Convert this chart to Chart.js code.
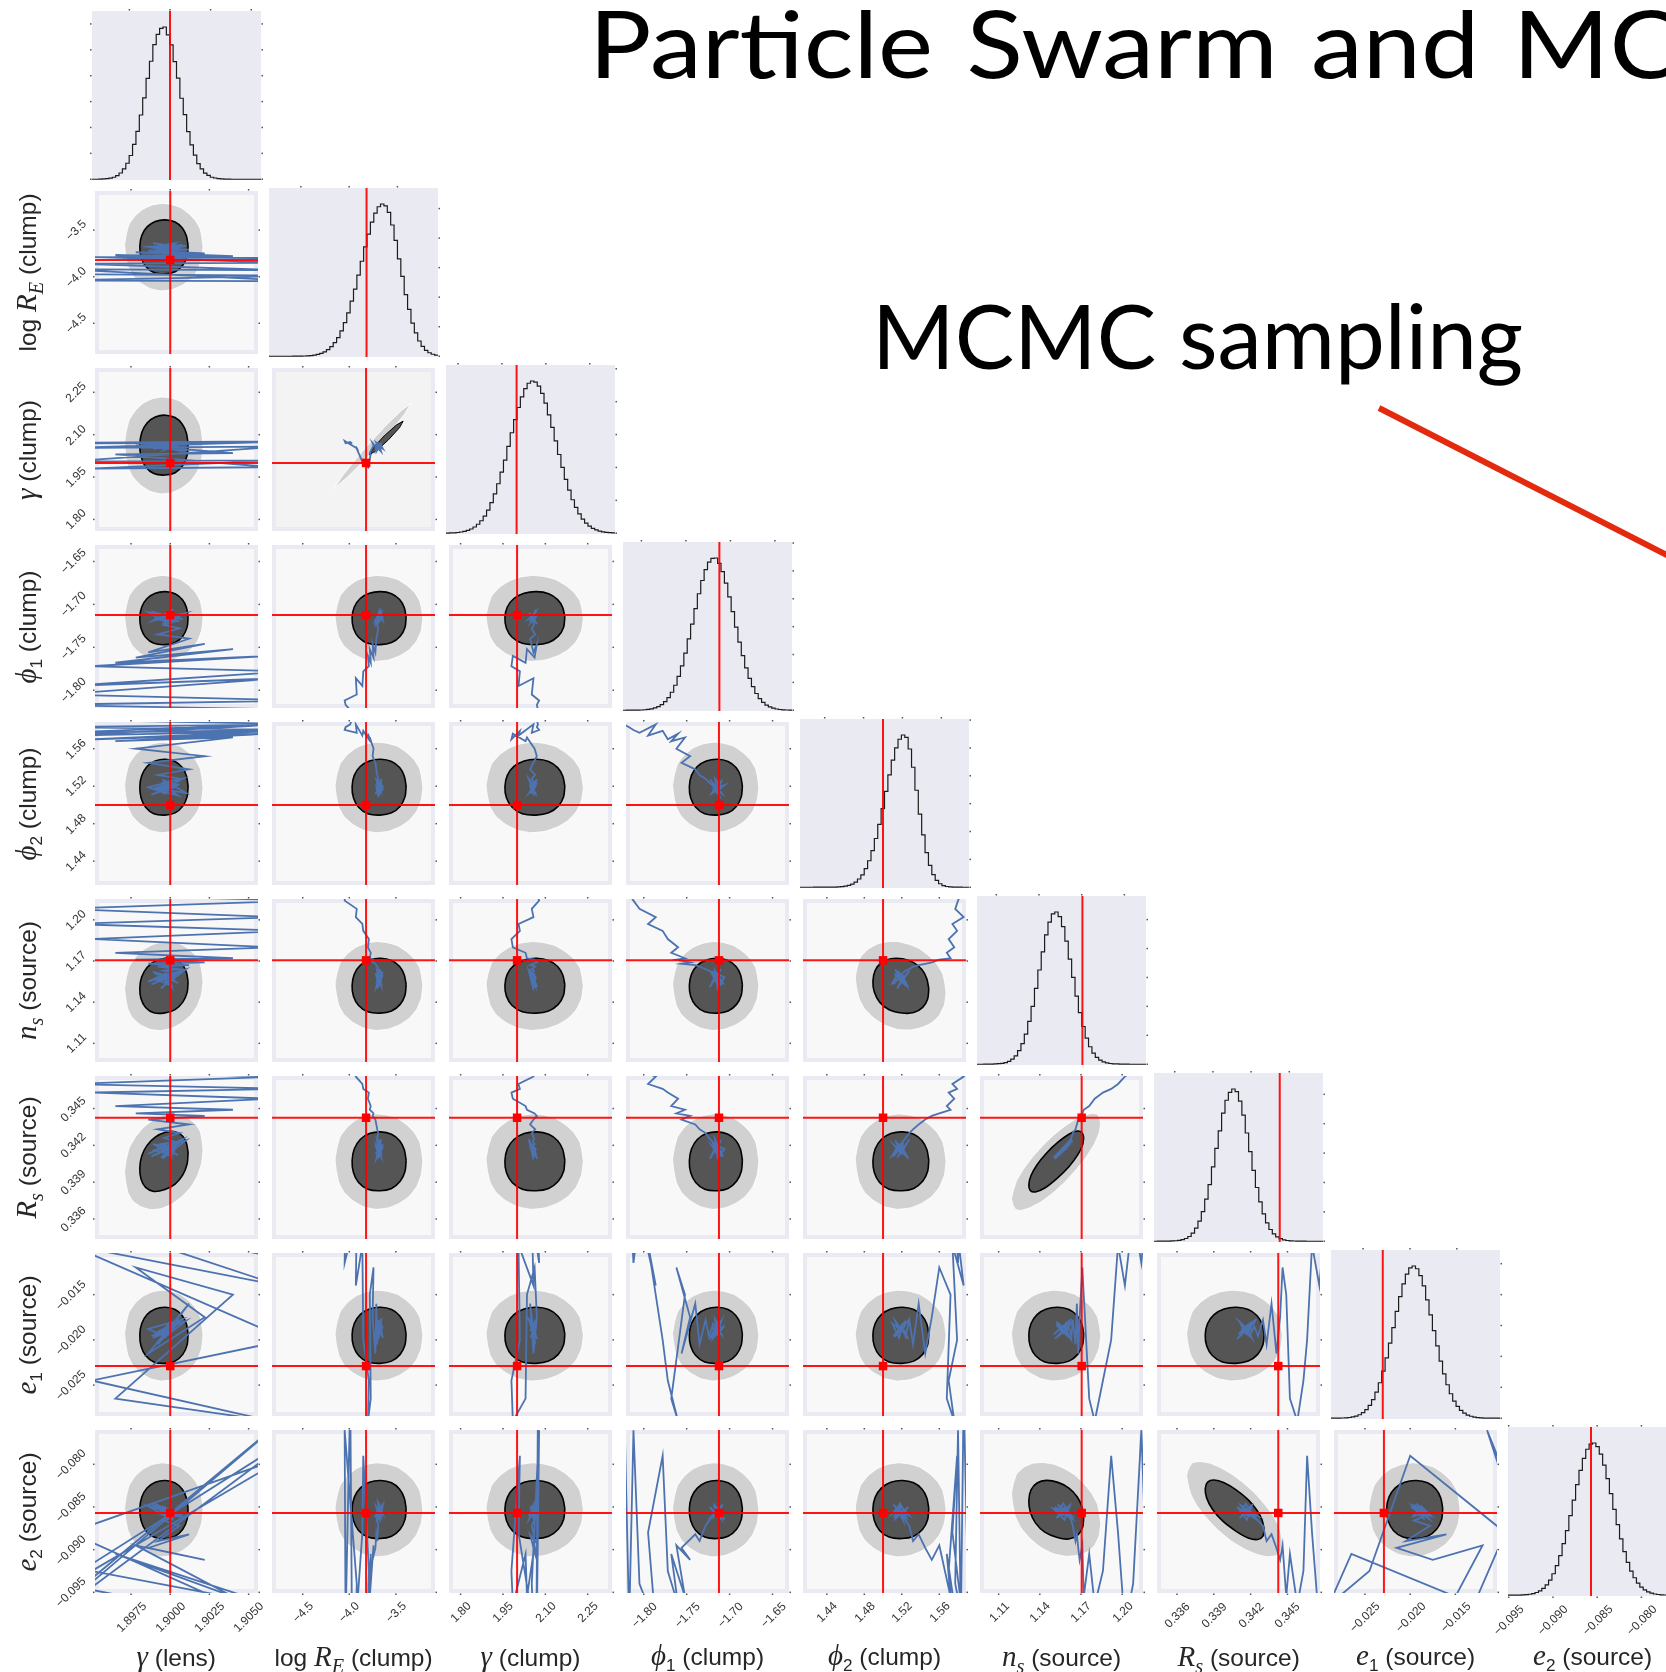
<!DOCTYPE html>
<html>
<head>
<meta charset="utf-8">
<title>Particle Swarm and MCMC</title>
<script src="https://cdn.jsdelivr.net/npm/chart.js@4.4.1/dist/chart.umd.min.js"></script>
<style>
  html, body { margin: 0; padding: 0; background: #ffffff; }
  body { position: relative; width: 1666px; height: 1672px; overflow: hidden;
         font-family: 'Liberation Sans', Arial, sans-serif; color: #262626; }
  canvas.panel { position: absolute; }
  .tick { position: absolute; font-size: 12px; line-height: 14px; color: #333333; white-space: nowrap; }
  .axtitle { position: absolute; font-size: 24.5px; line-height: 30px; white-space: nowrap; color: #262626; }
  .m { font-family: 'Liberation Serif', 'DejaVu Serif', serif; font-style: italic; font-size: 29px; }
  .axtitle sub { font-size: 70%; vertical-align: baseline; position: relative; top: 0.35em; }
  .big { position: absolute; font-family: Lato, 'Open Sans', sans-serif; color: #000; white-space: nowrap; line-height: 1;
         transform-origin: left top; }
</style>
</head>
<body>
<div class="big" id="title1" style="left:589px; top:-4px; font-size:93px; word-spacing:6px; transform: scaleX(1.12);">Particle Swarm and MCMC</div>
<div class="big" id="title2" style="left:872px; top:290px; font-size:89px;">MCMC sampling</div>
<svg style="position:absolute; left:0; top:0" width="1666" height="1672">
  <line x1="1379" y1="408" x2="1700" y2="572" stroke="#e32a0e" stroke-width="6"/>
</svg>
<script>
// parametres du corner plot (ordre des lignes / colonnes)
const axisTitles = [
  '<span class="m">γ</span> (lens)',
  'log <span class="m">R<sub>E</sub></span> (clump)',
  '<span class="m">γ</span> (clump)',
  '<span class="m">ϕ</span><sub>1</sub> (clump)',
  '<span class="m">ϕ</span><sub>2</sub> (clump)',
  '<span class="m">n<sub>s</sub></span> (source)',
  '<span class="m">R<sub>s</sub></span> (source)',
  '<span class="m">e</span><sub>1</sub> (source)',
  '<span class="m">e</span><sub>2</sub> (source)'
];
const axisMin = [1.8952, -4.83, 1.759, -1.8207, 1.4146, 1.0964, 0.33437, -0.02842, -0.09508];
const axisMax = [1.9056, -3.08, 2.336, -1.6308, 1.5885, 1.2152, 0.34765, -0.0104, -0.07598];
const tickValues = [
  [1.8975, 1.9, 1.9025, 1.905],
  [-4.5, -4.0, -3.5],
  [1.80, 1.95, 2.10, 2.25],
  [-1.80, -1.75, -1.70, -1.65],
  [1.44, 1.48, 1.52, 1.56],
  [1.11, 1.14, 1.17, 1.20],
  [0.336, 0.339, 0.342, 0.345],
  [-0.025, -0.020, -0.015],
  [-0.095, -0.090, -0.085, -0.080]
];
const tickLabels = [
  ['1.8975', '1.9000', '1.9025', '1.9050'],
  ['\u22124.5', '\u22124.0', '\u22123.5'],
  ['1.80', '1.95', '2.10', '2.25'],
  ['\u22121.80', '\u22121.75', '\u22121.70', '\u22121.65'],
  ['1.44', '1.48', '1.52', '1.56'],
  ['1.11', '1.14', '1.17', '1.20'],
  ['0.336', '0.339', '0.342', '0.345'],
  ['\u22120.025', '\u22120.020', '\u22120.015'],
  ['\u22120.095', '\u22120.090', '\u22120.085', '\u22120.080']
];
// valeurs vraies (lignes rouges)
const truthValues = [1.9000, -3.82, 2.00, -1.7124, 1.50, 1.1705, 0.34425, -0.0229, -0.0857];

// histogrammes marginaux, 50 classes sur l'etendue de chaque axe
const histCounts = [
  [0, 0, 0.1, 0.2, 0.4, 0.7, 1.3, 2.4, 4.1, 6.8, 10.5, 15.6, 22.9, 31.4, 42.2, 53.5, 66.3, 77.5, 88.4, 95.2, 99.1, 100, 94.8, 88.3, 77.2, 66.4, 53.2, 42.4, 31.3, 22.6, 15.9, 10.2, 6.8, 4.0, 2.5, 1.3, 0.8, 0.4, 0.2, 0.1, 0.05, 0, 0, 0, 0, 0, 0, 0, 0, 0],
  [0, 0, 0, 0, 0, 0, 0, 0.01, 0.03, 0.07, 0.15, 0.3, 0.46, 0.77, 1.2, 1.9, 2.9, 4.3, 6.3, 8.9, 12.2, 16.7, 22.1, 28.5, 36.2, 44.1, 53.3, 62.4, 71.8, 80.2, 88.1, 94.0, 98.2, 100, 98.8, 94.5, 86.2, 76.1, 64.0, 52.4, 40.5, 30.8, 21.8, 15.3, 10.0, 6.5, 3.9, 2.3, 1.3, 0.7],
  [0.1, 0.2, 0.3, 0.5, 0.8, 1.2, 1.9, 2.8, 4.1, 5.9, 8.2, 11.3, 15.2, 20.1, 25.8, 32.5, 40.1, 48.0, 57.1, 66.0, 74.6, 82.6, 89.5, 95.0, 98.5, 100, 99.3, 96.6, 91.9, 85.5, 77.8, 69.5, 60.7, 51.7, 43.3, 35.4, 28.3, 22.0, 17.0, 12.7, 9.3, 6.7, 4.7, 3.2, 2.2, 1.4, 0.9, 0.6, 0.4, 0.2],
  [0, 0.01, 0.03, 0.05, 0.1, 0.17, 0.31, 0.54, 0.9, 1.5, 2.4, 3.7, 5.6, 8.3, 11.8, 16.4, 22.3, 29.2, 37.5, 46.9, 56.6, 66.7, 76.5, 85.2, 92.3, 97.3, 99.8, 100, 96.5, 91.0, 83.5, 74.4, 64.8, 54.6, 44.8, 35.9, 27.8, 20.9, 15.5, 11.0, 7.6, 5.2, 3.4, 2.2, 1.4, 0.8, 0.5, 0.3, 0.15, 0.08],
  [0, 0, 0, 0, 0.01, 0.01, 0.02, 0.03, 0.04, 0.06, 0.11, 0.21, 0.39, 0.7, 1.25, 2.1, 3.4, 5.4, 8.1, 12.2, 17.4, 24.0, 32.0, 41.3, 51.6, 63.0, 73.8, 83.5, 91.5, 97.2, 100, 98.4, 90.8, 78.8, 63.7, 48.0, 34.4, 22.8, 14.3, 8.3, 4.5, 2.3, 1.1, 0.5, 0.2, 0.1, 0.05, 0.02, 0, 0],
  [0, 0, 0.02, 0.05, 0.1, 0.2, 0.35, 0.6, 1.0, 1.9, 3.3, 5.5, 8.9, 13.5, 19.8, 28.2, 38.0, 49.8, 61.9, 73.8, 85.0, 93.4, 98.7, 100, 97.0, 90.4, 80.9, 69.1, 57.0, 44.7, 33.9, 24.8, 17.1, 11.5, 7.3, 4.5, 2.7, 1.5, 0.9, 0.5, 0.3, 0.2, 0.1, 0.05, 0.02, 0, 0, 0, 0, 0],
  [0, 0.01, 0.02, 0.05, 0.1, 0.18, 0.32, 0.58, 1.0, 1.8, 3.1, 5.3, 8.6, 13.2, 19.4, 27.6, 37.2, 48.9, 61.0, 72.5, 84.1, 92.6, 97.8, 100, 98.3, 92.0, 82.8, 71.1, 58.9, 46.5, 35.3, 25.9, 18.0, 12.1, 7.7, 4.8, 2.9, 1.7, 0.95, 0.5, 0.28, 0.15, 0.08, 0.04, 0.02, 0, 0, 0, 0, 0],
  [0.01, 0.03, 0.07, 0.15, 0.28, 0.5, 0.85, 1.45, 2.3, 3.7, 5.6, 8.5, 12.2, 17.1, 23.3, 31.0, 39.6, 49.3, 59.5, 70.2, 79.9, 88.2, 94.7, 98.8, 100, 98.2, 93.7, 86.9, 77.7, 67.9, 57.6, 47.5, 37.5, 29.1, 22.0, 16.1, 11.3, 7.8, 5.2, 3.4, 2.1, 1.3, 0.77, 0.45, 0.24, 0.13, 0.07, 0.04, 0.02, 0.01],
  [0.02, 0.04, 0.08, 0.13, 0.22, 0.38, 0.66, 1.1, 1.8, 2.9, 4.5, 6.8, 9.9, 14.1, 19.4, 26.0, 33.9, 42.4, 52.3, 62.5, 72.6, 82.0, 89.9, 95.9, 99.3, 100, 97.6, 92.7, 85.5, 76.6, 66.7, 56.4, 46.4, 37.0, 28.7, 21.6, 15.8, 11.5, 7.9, 5.3, 3.5, 2.2, 1.4, 0.8, 0.5, 0.27, 0.15, 0.08, 0.04, 0.02]
];
const histMax = 110.5;
const histTickStep = [17, 19.4, 21.6, 18.3, 18.3, 19, 19.3, 20.3, 19.6];

// contours 2D : centre et demi-largeur du contour 68 % pour chaque parametre
const contourCenter = [1.8996, -3.68, 2.063, -1.716, 1.519, 1.152, 0.3407, -0.0195, -0.0853];
const contourRadius = [0.00154, 0.29, 0.106, 0.0309, 0.0298, 0.020, 0.0024, 0.0031, 0.0034];
// correlations visibles [colonne, ligne, rho]
const pairCorrelation = [[5, 6, 0.8], [6, 8, -0.7], [5, 8, -0.3], [0, 6, 0.25], [4, 5, -0.15], [0, 5, 0.1]];
// forme des contours en unites du rayon 68 %
const innerBlob = [[1.00, 0.04], [0.93, 0.40], [0.76, 0.70], [0.46, 0.92], [0.06, 1.00], [-0.36, 0.94], [-0.70, 0.74], [-0.92, 0.42],
  [-1.00, 0.02], [-0.95, -0.38], [-0.76, -0.72], [-0.42, -0.95], [0.04, -1.00], [0.46, -0.92], [0.78, -0.68], [0.96, -0.34]];
const outerBlob = [[1.62, 0.00], [1.57, 0.36], [1.50, 0.66], [1.30, 0.98], [1.02, 1.24], [0.68, 1.46], [0.30, 1.57], [-0.08, 1.61],
  [-0.48, 1.55], [-0.86, 1.40], [-1.18, 1.16], [-1.44, 0.84], [-1.56, 0.46], [-1.63, 0.06], [-1.58, -0.34], [-1.49, -0.72],
  [-1.30, -1.05], [-0.98, -1.33], [-0.58, -1.54], [-0.12, -1.63], [0.34, -1.58], [0.76, -1.42], [1.10, -1.20], [1.38, -0.88], [1.56, -0.46]];
// panneau log R_E / gamma clump : bande tres etroite
const streakOuter = [[-4.167, 1.909], [-4.024, 1.9485], [-3.805, 2.0198], [-3.556, 2.111], [-3.403, 2.1745], [-3.339, 2.210],
  [-3.441, 2.1855], [-3.618, 2.129], [-3.867, 2.038], [-4.062, 1.9595]];
const streakInner = [[-3.784, 2.029], [-3.694, 2.0475], [-3.580, 2.0816], [-3.460, 2.1252], [-3.422, 2.148],
  [-3.492, 2.1348], [-3.626, 2.0954], [-3.730, 2.0585]];

// trajectoire PSO (meme chemin projete dans chaque panneau)
const traceSteps = [
  [1.8900, 1.9090, 1.8920, 1.9085, 1.8930, 1.9070, 1.8936, 1.9075, 1.8950, 1.9065, 1.8965, 1.9040, 1.8978, 1.9022, 1.8986, 1.9012, 1.8992, 1.9006, 1.8996, 1.9003, 1.8994, 1.9001,
   1.8992, 1.9006, 1.8988, 1.9003, 1.8995, 1.9010, 1.8990, 1.9001, 1.8997, 1.8986, 1.9008, 1.8994, 1.9002, 1.8989, 1.9005, 1.8996, 1.9000, 1.8993, 1.9003, 1.8998],
  [-3.97, -3.99, -4.04, -4.05, -3.92, -3.93, -3.86, -3.85, -3.79, -3.80, -3.77, -3.78, -3.74, -3.75, -3.72, -3.71, -3.70, -3.69, -3.70, -3.68, -3.69, -3.67,
   -3.66, -3.70, -3.68, -3.64, -3.71, -3.67, -3.69, -3.65, -3.72, -3.68, -3.66, -3.70, -3.67, -3.64, -3.69, -3.71, -3.66, -3.68, -3.70, -3.67],
  [2.068, 2.074, 2.070, 2.078, 2.052, 2.058, 2.005, 2.010, 1.980, 1.985, 2.030, 2.035, 2.062, 2.070, 2.058, 2.046, 2.064, 2.052, 2.060, 2.056, 2.062, 2.054,
   2.062, 2.045, 2.068, 2.052, 2.071, 2.043, 2.060, 2.069, 2.048, 2.064, 2.041, 2.057, 2.066, 2.050, 2.061, 2.046, 2.063, 2.055, 2.059, 2.052],
  [-1.835, -1.823, -1.817, -1.812, -1.805, -1.786, -1.795, -1.778, -1.772, -1.760, -1.768, -1.752, -1.762, -1.746, -1.756, -1.740, -1.735, -1.728, -1.724, -1.720, -1.718, -1.716,
   -1.711, -1.720, -1.708, -1.716, -1.723, -1.710, -1.718, -1.713, -1.721, -1.709, -1.717, -1.714, -1.706, -1.719, -1.712, -1.716, -1.710, -1.715, -1.713, -1.717],
  [1.592, 1.586, 1.583, 1.580, 1.577, 1.586, 1.574, 1.579, 1.570, 1.576, 1.568, 1.572, 1.560, 1.552, 1.545, 1.538, 1.532, 1.528, 1.524, 1.521, 1.519, 1.522,
   1.514, 1.522, 1.511, 1.520, 1.527, 1.513, 1.518, 1.524, 1.512, 1.519, 1.528, 1.515, 1.521, 1.517, 1.510, 1.520, 1.525, 1.514, 1.519, 1.516],
  [1.232, 1.226, 1.219, 1.214, 1.208, 1.202, 1.197, 1.192, 1.186, 1.180, 1.176, 1.172, 1.171, 1.169, 1.168, 1.167, 1.166, 1.164, 1.163, 1.161, 1.160, 1.159,
   1.156, 1.162, 1.153, 1.160, 1.151, 1.164, 1.157, 1.152, 1.161, 1.155, 1.163, 1.150, 1.158, 1.162, 1.154, 1.159, 1.152, 1.160, 1.156, 1.158],
  [0.3512, 0.3498, 0.3489, 0.3484, 0.3481, 0.3476, 0.3470, 0.3466, 0.3463, 0.3458, 0.3452, 0.3449, 0.3446, 0.3444, 0.3441, 0.3437, 0.3433, 0.3430, 0.3426, 0.3423, 0.3421, 0.3419,
   0.3414, 0.3422, 0.3411, 0.3419, 0.3409, 0.3424, 0.3416, 0.3412, 0.3420, 0.3413, 0.3425, 0.3410, 0.3417, 0.3421, 0.3412, 0.3419, 0.3411, 0.3418, 0.3415, 0.3417],
  [-0.0060, -0.0085, -0.0030, -0.0115, -0.0060, -0.0140, -0.0095, -0.0200, -0.0245, -0.0290, -0.0265, -0.0150, -0.0120, -0.0175, -0.0215, -0.0160, -0.0205, -0.0178, -0.0196, -0.0185, -0.0191, -0.0182,
   -0.0192, -0.0181, -0.0196, -0.0185, -0.0199, -0.0179, -0.0193, -0.0183, -0.0197, -0.0188, -0.0177, -0.0194, -0.0184, -0.0198, -0.0182, -0.0190, -0.0180, -0.0195, -0.0186, -0.0189],
  [-0.1010, -0.0720, -0.0985, -0.0760, -0.0940, -0.0990, -0.0880, -0.0790, -0.0925, -0.0965, -0.0905, -0.0955, -0.0895, -0.0912, -0.0898, -0.0882, -0.0890, -0.0872, -0.0866, -0.0861, -0.0858, -0.0856,
   -0.0851, -0.0862, -0.0847, -0.0859, -0.0850, -0.0864, -0.0846, -0.0857, -0.0861, -0.0849, -0.0860, -0.0852, -0.0865, -0.0848, -0.0858, -0.0850, -0.0863, -0.0853, -0.0857, -0.0854]
];

// mise en page
const N = axisMin.length;
const PANEL = 169, PITCH = 177, LEFT0 = 92, TOP0 = 11, PAD = 3;
const RED = 'rgba(255, 0, 0, 0.92)';

function correlationFor(c, r) {
  const hit = pairCorrelation.find(p => p[0] === c && p[1] === r);
  return hit ? hit[2] : 0;
}

function blobToData(blob, c, r) {
  const rho = correlationFor(c, r);
  const k = Math.sqrt(1 - rho * rho);
  const pts = blob.map(([u, v]) => ({
    x: contourCenter[c] + contourRadius[c] * u,
    y: contourCenter[r] + contourRadius[r] * (rho * u + k * v)
  }));
  pts.push(pts[0]);
  return pts;
}

function closedPoints(list) {
  const pts = list.map(([x, y]) => ({x, y}));
  pts.push(pts[0]);
  return pts;
}

// fond du panneau et petites graduations
const panelFrame = {
  id: 'panelFrame',
  beforeDraw(chart, args, opts) {
    const {ctx, chartArea: a} = chart;
    ctx.save();
    ctx.fillStyle = '#EAEAF2';
    ctx.fillRect(a.left, a.top, a.right - a.left, a.bottom - a.top);
    if (opts.inner) {
      ctx.fillStyle = opts.inner;
      ctx.fillRect(a.left + 4, a.top + 4, a.right - a.left - 8, a.bottom - a.top - 8);
    }
    ctx.restore();
  },
  afterDraw(chart, args, opts) {
    const {ctx, chartArea: a, scales} = chart;
    ctx.save();
    ctx.fillStyle = '#555555';
    opts.xTicks.forEach(v => {
      const px = scales.x.getPixelForValue(v);
      ctx.fillRect(px - 0.75, a.top - 2, 1.5, 1.5);
      if (opts.bottom) ctx.fillRect(px - 0.75, a.bottom + 0.5, 1.5, 1.5);
    });
    opts.yTicks.forEach(v => {
      const py = scales.y.getPixelForValue(v);
      ctx.fillRect(a.right + 0.5, py - 0.75, 1.5, 1.5);
      if (opts.left) ctx.fillRect(a.left - 2, py - 0.75, 1.5, 1.5);
    });
    ctx.restore();
  }
};

function makePanel(r, c) {
  const canvas = document.createElement('canvas');
  canvas.className = 'panel';
  canvas.width = PANEL + 2 * PAD;
  canvas.height = PANEL + 2 * PAD;
  canvas.style.left = (LEFT0 + PITCH * c - PAD) + 'px';
  canvas.style.top = (TOP0 + PITCH * r - PAD) + 'px';
  document.body.appendChild(canvas);

  let datasets, yMin, yMax, yTicks, inner = null;
  if (r === c) {
    const counts = histCounts[c];
    const bw = (axisMax[c] - axisMin[c]) / counts.length;
    const histPts = counts.map((v, k) => ({x: axisMin[c] + k * bw, y: v}));
    histPts.push({x: axisMax[c], y: counts[counts.length - 1]});
    yMin = -0.5;
    yMax = histMax;
    yTicks = [];
    for (let t = 0; t <= histMax; t += histTickStep[c]) yTicks.push(t);
    datasets = [
      {data: [{x: truthValues[c], y: yMin}, {x: truthValues[c], y: yMax}], borderColor: RED, borderWidth: 2},
      {data: histPts, stepped: true, borderColor: '#1c1c1c', borderWidth: 1.2}
    ];
  } else {
    yMin = axisMin[r];
    yMax = axisMax[r];
    yTicks = tickValues[r];
    const special = (c === 1 && r === 2);
    inner = special ? '#F3F3F3' : '#F8F8F8';
    const outerPts = special ? closedPoints(streakOuter) : blobToData(outerBlob, c, r);
    const innerPts = special ? closedPoints(streakInner) : blobToData(innerBlob, c, r);
    const tracePts = traceSteps[c].map((v, k) => ({x: v, y: traceSteps[r][k]}));
    datasets = [
      {data: [{x: truthValues[c], y: truthValues[r]}], showLine: false, pointStyle: 'rect',
       pointRadius: 6, pointBackgroundColor: '#ff0000', pointBorderWidth: 0},
      {data: [{x: truthValues[c], y: yMin}, {x: truthValues[c], y: yMax}], borderColor: RED, borderWidth: 2},
      {data: [{x: axisMin[c], y: truthValues[r]}, {x: axisMax[c], y: truthValues[r]}], borderColor: RED, borderWidth: 2},
      {data: tracePts, borderColor: '#4C72B0', borderWidth: 1.8},
      {data: innerPts, borderColor: '#000000', borderWidth: special ? 1 : 1.6, backgroundColor: '#555555',
       fill: 'shape', tension: special ? 0 : 0.3},
      {data: outerPts, borderColor: 'rgba(255,255,255,0.85)', borderWidth: 1, backgroundColor: '#D1D1D1',
       fill: 'shape', tension: special ? 0 : 0.15}
    ];
  }
  datasets.forEach(d => {
    d.clip = 0;
    if (d.pointRadius === undefined) d.pointRadius = 0;
  });

  return new Chart(canvas, {
    type: 'line',
    data: {datasets},
    options: {
      responsive: false,
      animation: false,
      events: [],
      layout: {padding: PAD},
      scales: {
        x: {type: 'linear', min: axisMin[c], max: axisMax[c], display: false},
        y: {type: 'linear', min: yMin, max: yMax, display: false}
      },
      plugins: {
        legend: {display: false},
        tooltip: {enabled: false},
        panelFrame: {inner, xTicks: tickValues[c], yTicks, bottom: r === N - 1, left: c === 0}
      }
    },
    plugins: [panelFrame]
  });
}

// etiquettes inclinees a 45 degres
function rotatedLabel(text, ax, ay, side) {
  const el = document.createElement('div');
  el.className = 'tick';
  el.textContent = text;
  document.body.appendChild(el);
  const w = el.offsetWidth, h = el.offsetHeight;
  const box = (w + h) / Math.SQRT2;
  let cx, cy;
  if (side === 'bottom') { cx = ax; cy = ay + box / 2; }
  else { cx = ax - box / 2; cy = ay; }
  el.style.left = (cx - w / 2) + 'px';
  el.style.top = (cy - h / 2) + 'px';
  el.style.transform = 'rotate(-45deg)';
}

function axisTitle(html, cx, cy, vertical) {
  const el = document.createElement('div');
  el.className = 'axtitle';
  el.innerHTML = html;
  document.body.appendChild(el);
  const w = el.offsetWidth, h = el.offsetHeight;
  el.style.left = (cx - w / 2) + 'px';
  el.style.top = (cy - h / 2) + 'px';
  if (vertical) el.style.transform = 'rotate(-90deg)';
}

for (let r = 0; r < N; r++) {
  for (let c = 0; c <= r; c++) {
    const chart = makePanel(r, c);
    const offX = LEFT0 + PITCH * c - PAD;
    const offY = TOP0 + PITCH * r - PAD;
    if (r === N - 1) {
      tickValues[c].forEach((v, i) => {
        rotatedLabel(tickLabels[c][i], offX + chart.scales.x.getPixelForValue(v), offY + chart.chartArea.bottom + 6, 'bottom');
      });
      axisTitle(axisTitles[c], LEFT0 + PITCH * c + PANEL / 2, 1657, false);
    }
    if (c === 0 && r > 0) {
      tickValues[r].forEach((v, i) => {
        rotatedLabel(tickLabels[r][i], offX + chart.chartArea.left - 6, offY + chart.scales.y.getPixelForValue(v), 'left');
      });
      axisTitle(axisTitles[r], 27, TOP0 + PITCH * r + PANEL / 2, true);
    }
  }
}
</script>
</body>
</html>
